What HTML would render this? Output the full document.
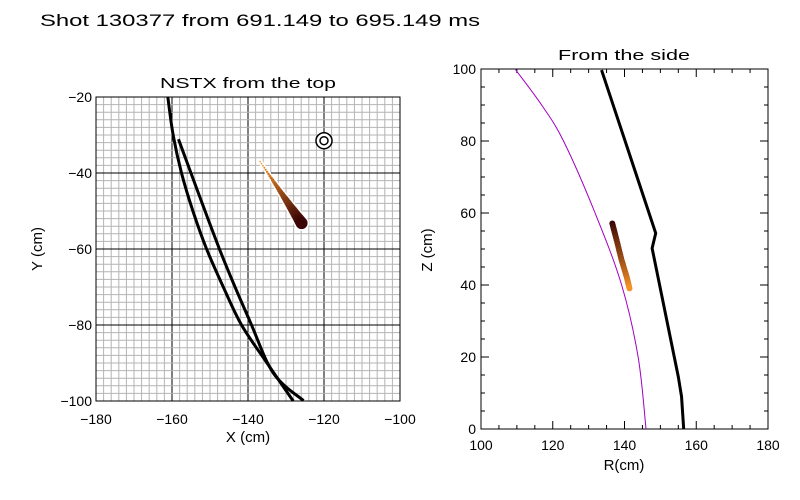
<!DOCTYPE html>
<html><head><meta charset="utf-8"><style>
body{margin:0;background:#fff;}
svg{display:block;font-family:"Liberation Sans",sans-serif;}
text{fill:#000;}
</style></head><body>
<svg id="c" width="800" height="500" viewBox="0 0 800 500" xmlns="http://www.w3.org/2000/svg">
<text x="40" y="26" font-size="17" textLength="440" lengthAdjust="spacingAndGlyphs">Shot 130377 from 691.149 to 695.149 ms</text>
<text x="248" y="88" font-size="15" text-anchor="middle" textLength="176" lengthAdjust="spacingAndGlyphs">NSTX from the top</text>
<text x="624" y="60" font-size="15" text-anchor="middle" textLength="132" lengthAdjust="spacingAndGlyphs">From the side</text>
<text x="248" y="442" font-size="15" text-anchor="middle">X (cm)</text>
<text transform="translate(42,249) rotate(-90)" font-size="15" text-anchor="middle">Y (cm)</text>
<text x="624" y="470" font-size="15" text-anchor="middle">R(cm)</text>
<text transform="translate(432,250) rotate(-90)" font-size="15" text-anchor="middle">Z (cm)</text>
<g id="left"></g>
<g id="right"></g>
</svg>
<script>
// Top view data
const topXTicks = [-180,-160,-140,-120,-100];
const topYTicks = [-20,-40,-60,-80,-100];
const wallOuterX = [-161.1,-159.7,-157.5,-154.5,-150.9,-146.5,-141.7,-135,-128.1];
const wallOuterY = [-20,-30,-40,-50,-60,-70,-80,-90,-100];
const wallInnerX = [-158.3,-147.4,-139.5,-133.3,-125.4];
const wallInnerY = [-31.1,-60.3,-79,-92.7,-99.9];
const targetX = [-120];
const targetY = [-31.5];
const topComet = {x0:-136.8,y0:-37,x1:-125.9,y1:-53.2};
// Side view data
const sideXTicks = [100,120,140,160,180];
const sideYTicks = [0,20,40,60,80,100];
const sepR = [109.5,116.9,123,131.8,139.2,143.8,146];
const sepZ = [100,90,80,60,40,20,0];
const limR = [133.6,148.7,147.7,155,155.9,156.5];
const limZ = [99.7,54.4,50.2,14.5,9,0];
const sideCometR = [136.6,137.8,139.2,140.6,141.5];
const sideCometZ = [57.1,52.5,46.9,42.3,38.6];

const NS='http://www.w3.org/2000/svg';
function mk(tag,attrs,parent){const e=document.createElementNS(NS,tag);for(const k in attrs)e.setAttribute(k,attrs[k]);parent.appendChild(e);return e;}
const L=document.getElementById('left'), R=document.getElementById('right');
const lx=v=>96+(v+180)*3.8, ly=v=>97+(-20-v)*3.8;
const rx=v=>481+(v-100)*3.5875, ry=v=>429-v*3.6;
function lerp(a,b,t){return a+(b-a)*t;}
function col(t){const r=Math.round(lerp(250,60,t)),g=Math.round(lerp(150,5,t)),b=Math.round(lerp(40,5,t));return `rgb(${r},${g},${b})`;}
function smooth(xs,ys,fx,fy){const p=xs.map((x,i)=>[fx(x),fy(ys[i])]);let d='M'+p[0][0]+','+p[0][1];
 for(let i=0;i<p.length-1;i++){const p0=p[i-1]||p[i],p1=p[i],p2=p[i+1],p3=p[i+2]||p2;
  const c1=[p1[0]+(p2[0]-p0[0])/6,p1[1]+(p2[1]-p0[1])/6],c2=[p2[0]-(p3[0]-p1[0])/6,p2[1]-(p3[1]-p1[1])/6];
  d+=` C${c1[0]},${c1[1]} ${c2[0]},${c2[1]} ${p2[0]},${p2[1]}`;}return d;}

for(let v=-180;v<=-100;v+=2){const maj=v%20===0;
 const l=mk('line',{x1:lx(v),x2:lx(v),y1:97,y2:401,stroke:maj?'#000':'#b4b4b4','stroke-width':1},L);
 }
for(let v=-100;v<=-20;v+=2){const maj=v%20===0;
 const l=mk('line',{y1:ly(v),y2:ly(v),x1:96,x2:400,stroke:maj?'#000':'#b4b4b4','stroke-width':1},L);
 }
const lf=mk('rect',{x:96,y:97,width:304,height:304,fill:'none',stroke:'#000'},L);

topXTicks.forEach(v=>{const t=mk('text',{x:lx(v),y:424,'font-size':14,'text-anchor':'middle'},L);t.textContent='\u2212'+Math.abs(v);
 });
topYTicks.forEach(v=>{const t=mk('text',{x:92,y:ly(v)+5,'font-size':14,'text-anchor':'end'},L);t.textContent='\u2212'+Math.abs(v);
 });
const w1=mk('path',{d:smooth(wallOuterX,wallOuterY,lx,ly),fill:'none',stroke:'#000','stroke-width':3},L);

const w2=mk('path',{d:smooth(wallInnerX,wallInnerY,lx,ly),fill:'none',stroke:'#000','stroke-width':3},L);

targetX.forEach((x,i)=>{
 const c1=mk('circle',{cx:lx(x),cy:ly(targetY[i]),r:8,fill:'#fff',stroke:'#000','stroke-width':1.5},L);
 
 const c2=mk('circle',{cx:lx(x),cy:ly(targetY[i]),r:4,fill:'none',stroke:'#000','stroke-width':1.5},L);
 });
{const n=30;const g=mk('g',{},L);
 for(let i=0;i<=n;i++){const t=i/n;const cx=lx(lerp(topComet.x0,topComet.x1,t)),cy=ly(lerp(topComet.y0,topComet.y1,t));
  mk('circle',{cx,cy,r:0.8+5.2*Math.sqrt(t)*t+1.5,fill:'#fff'},g);}
 for(let i=0;i<=n;i++){const t=i/n;const cx=lx(lerp(topComet.x0,topComet.x1,t)),cy=ly(lerp(topComet.y0,topComet.y1,t));
  const c=mk('circle',{cx,cy,r:0.8+5.2*Math.sqrt(t)*t,fill:col(t)},g);}}

const rf=mk('rect',{x:481,y:69,width:287,height:360,fill:'none',stroke:'#000'},R);

for(let v=100;v<=180;v+=5){const len=v%20===0?8:4;
 mk('line',{x1:rx(v),x2:rx(v),y1:429,y2:429-len,stroke:'#000'},R);mk('line',{x1:rx(v),x2:rx(v),y1:69,y2:69+len,stroke:'#000'},R);}
for(let v=0;v<=100;v+=5){const len=v%20===0?8:4;
 mk('line',{y1:ry(v),y2:ry(v),x1:481,x2:481+len,stroke:'#000'},R);mk('line',{y1:ry(v),y2:ry(v),x1:768,x2:768-len,stroke:'#000'},R);}
sideXTicks.forEach(v=>{const t=mk('text',{x:rx(v),y:450,'font-size':14,'text-anchor':'middle'},R);t.textContent=v;
 });
sideYTicks.forEach(v=>{const t=mk('text',{x:476,y:ry(v)+5,'font-size':14,'text-anchor':'end'},R);t.textContent=v;
 });
const sp=mk('path',{d:smooth(sepR,sepZ,rx,ry),fill:'none',stroke:'#a000c0','stroke-width':1},R);

const lm=mk('polyline',{points:limR.map((x,i)=>rx(x)+','+ry(limZ[i])).join(' '),fill:'none',stroke:'#000','stroke-width':3},R);

{const g=mk('g',{},R);
 const m=sideCometR.length-1;
 for(let i=0;i<m;i++){for(let k=0;k<8;k++){const t=k/8;const u=(i+t)/m;
  const c=mk('circle',{cx:lerp(rx(sideCometR[i]),rx(sideCometR[i+1]),t),cy:lerp(ry(sideCometZ[i]),ry(sideCometZ[i+1]),t),r:3,fill:col(1-u)},g);
  }}}
</script>
</body></html>
